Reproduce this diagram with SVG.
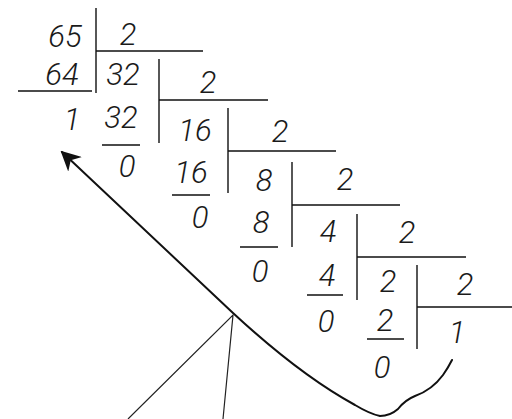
<svg xmlns="http://www.w3.org/2000/svg" width="512" height="419" viewBox="0 0 512 419">
<style>
text{font-family:"Roboto","Liberation Sans",sans-serif;font-style:italic;font-weight:300;font-size:31px;fill:#1a1a1a;text-anchor:middle}
.l{stroke:#111;stroke-width:1.4;fill:none}
.c{stroke:#111;stroke-width:2;fill:none;stroke-linecap:round;stroke-linejoin:round}
.t{stroke:#222;stroke-width:1.2;fill:none}
</style>
<defs>
<marker id="ah" markerWidth="10" markerHeight="10" refX="1" refY="5" orient="auto" markerUnits="strokeWidth">
<path d="M0,5 L10,0 L7,5 L10,10 Z" fill="#111"/>
</marker>
</defs>
<rect width="512" height="419" fill="#fff"/>
<g id="step1">
<text x="65" y="47">65</text><text x="128" y="45">2</text><text x="62" y="85">64</text><text x="123" y="85">32</text><text x="72" y="130">1</text>
<path class="l" d="M96,8V93M96,51H203M18,91H92"/>
</g>
<g id="step2">
<text x="121" y="128">32</text><text x="127" y="177">0</text><text x="208" y="93">2</text><text x="195" y="141">16</text>
<path class="l" d="M159,59V143M159,100H268M102,145H140"/>
</g>
<g id="step3">
<text x="191" y="183">16</text><text x="200" y="228">0</text><text x="280" y="142">2</text><text x="264" y="191">8</text>
<path class="l" d="M228,108V193M228,151H336M172,195H210"/>
</g>
<g id="step4">
<text x="261" y="233">8</text><text x="260" y="282">0</text><text x="345" y="190">2</text><text x="328" y="242">4</text>
<path class="l" d="M292,162V247M292,205H400M240,247H278"/>
</g>
<g id="step5">
<text x="327" y="286">4</text><text x="326" y="332">0</text><text x="407" y="243">2</text><text x="388" y="292">2</text>
<path class="l" d="M357,214V300M357,257H466M307,295H343"/>
</g>
<g id="step6">
<text x="385" y="331">2</text><text x="382" y="378">0</text><text x="465" y="295">2</text><text x="457" y="343">1</text>
<path class="l" d="M417,265V349M417,307H512M367,339H404"/>
</g>
<g id="connectors">
<path class="c" marker-start="url(#ah)" d="M62,152 L233,313 Q300,375 355,405 Q370,414 380,416 Q390,416 398,409 Q405,400 415,396 Q432,390 443,375 Q448,368 452,360"/>
<path class="t" d="M128,419 L233,315 L223,419"/>
</g>
</svg>
